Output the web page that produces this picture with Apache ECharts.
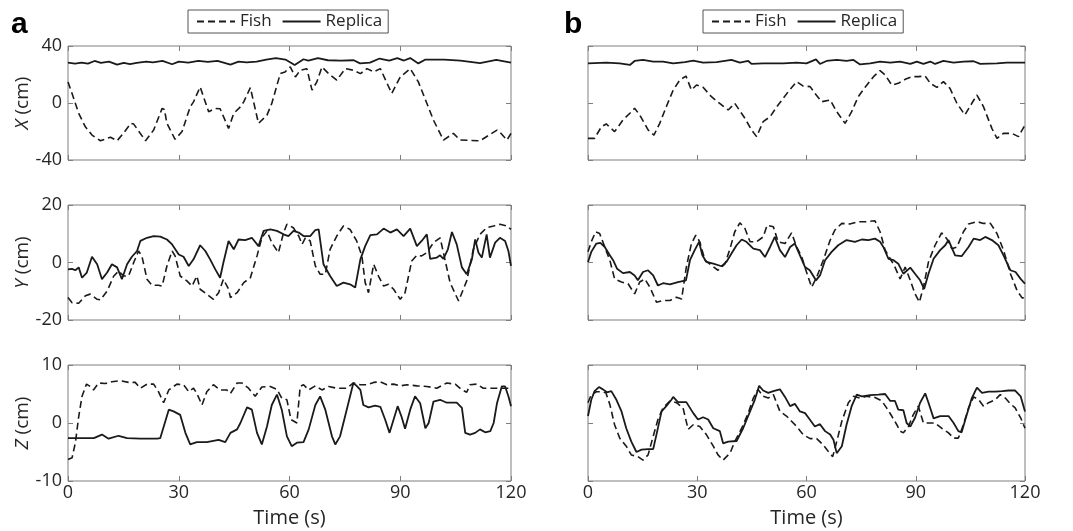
<!DOCTYPE html>
<html>
<head>
<meta charset="utf-8">
<title>Fish vs Replica</title>
<script src="https://cdn.jsdelivr.net/npm/echarts@6/dist/echarts.min.js"></script>
<style>
html, body { margin: 0; padding: 0; background: #fff; }
#main { width: 1073px; height: 531px; }
</style>
</head>
<body>
<div id="main"></div>
<script>
// axis settings
var timeTicks = [0, 30, 60, 90, 120];
var xRange = [-40, 40];
var yRange = [-20, 20];
var zRange = [-10, 10];
var seriesNames = ['Fish', 'Replica'];
var axisNames = ['X', 'Y', 'Z'];

// panel a, [time (s), position (cm)]
var aXFish = [[0,14.8],[1.1,6.7],[2.9,-7.3],[4.7,-16.7],[6.5,-22.5],[8.8,-26.5],[11.5,-24],[13.3,-26.5],[15,-21.3],[17,-14.3],[17.8,-14.8],[21,-26.5],[23.2,-19],[25.5,-3.8],[26.1,-4.5],[26.8,-14.3],[29,-25.5],[30.9,-20],[33.1,-2.7],[34,0.8],[35.8,11.3],[38.1,-6.2],[39.9,-3.8],[41.2,-4],[43.5,-17.8],[44.9,-7.3],[46.7,-2.7],[47.6,0.8],[49.4,10.8],[51.6,-14.3],[53.9,-8.5],[55.2,-0.3],[57.5,20.6],[58.8,21.8],[60.2,25.3],[61.6,18.3],[62.9,23],[64.7,24.1],[66.1,9],[67.4,14.8],[68.8,25.3],[70.6,20.6],[72.8,16],[75.1,24.1],[77.3,23],[79.2,20.6],[81,24.1],[82.8,21.8],[84.6,24.1],[87.7,6.7],[90,18.3],[92.7,24.1],[94.9,14.8],[99,-12],[101.7,-26],[104.4,-21.3],[106.2,-26],[111.6,-26.5],[116.2,-19],[117,-20.5],[118.9,-26],[120,-21.3]];
var aXReplica = [[0,28.3],[1.9,27.6],[3.7,28.3],[5.4,27.6],[7.2,29.5],[8.9,28.1],[11.1,29],[13.3,26.9],[15.1,28.1],[16.8,27.3],[18.6,28.1],[21.2,29],[23,28.5],[25.6,29.5],[28.2,27.2],[30,29],[32.6,28.3],[35.3,29.5],[37.9,28.8],[40.5,29.5],[44,26.9],[46.2,29],[48.4,28.5],[51.1,29],[53.7,30.5],[56.3,31.5],[58.9,30.5],[61.4,26.7],[63.8,30.7],[65.1,29.8],[67.7,31.5],[70.4,30],[73.9,29.8],[77.4,30],[79.1,27.8],[81.8,28.3],[84.4,31.2],[87,29.8],[89.2,31.5],[91,29.8],[92.7,31.5],[94.9,27.8],[96.7,30.4],[101.9,30.4],[106.3,29.8],[111.6,28],[116,30.2],[120,28.3]];
var aYFish = [[0,-12.2],[1.1,-14],[2.9,-14.2],[4.7,-11.6],[6,-11],[7.9,-12.8],[8.8,-13],[10.6,-9.9],[12.4,-4.7],[13.7,-3],[15.1,-4.7],[16.4,-4.7],[17.8,0],[19.1,4],[20,2.3],[21.4,-5.8],[22.7,-7.9],[24.5,-7.9],[25.5,-8.2],[26.8,-1.2],[28.2,4],[29,2.3],[30.4,-4.7],[32.2,-6.4],[33.6,-8.2],[34.9,-4.7],[35.8,-9.3],[37.6,-11],[39.4,-12.8],[40.8,-10.5],[42.1,-5.8],[43.5,-9.3],[44,-12.2],[45.8,-10.5],[47.6,-7],[49.4,-5.3],[51.2,2.3],[52.5,8.6],[53.9,11],[55.2,6.9],[57,3.4],[58.4,10.4],[59.3,13.3],[60.2,12.7],[61.1,12],[62.5,9.2],[63.4,6.3],[64.3,8.6],[65.6,7.5],[67,-1.2],[68.3,-4.1],[69.7,-4.1],[71,4.6],[72.8,9.2],[74.6,12.7],[76.4,11.5],[78.2,7.5],[79.6,2.3],[80.5,-7],[81.4,-10.5],[82.8,-0.6],[84.1,-4.7],[85.5,-8.2],[86.8,-7.6],[88.2,-9.3],[90,-12.8],[91.3,-10.5],[93.1,0.5],[94.5,2.5],[95.8,2.3],[97.2,3.4],[99,6.9],[100.8,8.6],[102.2,0.5],[103.5,-7],[105.8,-13.4],[108,-6.4],[109.8,4.6],[111.6,9.8],[113.4,12.1],[115.3,12.7],[117,13.3],[118.9,12.7],[120,11.5]];
var aYReplica = [[0,-2.4],[1.1,-2.2],[2,-2.7],[2.9,-1.7],[3.8,-5.3],[5.1,-3.5],[6.5,2],[7.9,-0.6],[9.2,-5.8],[10.6,-3.5],[11.9,-0.6],[13.3,-1.7],[14.6,-5.8],[16,-0.6],[17.3,2],[18.7,4],[19.6,7.5],[21.4,8.6],[23.2,9.2],[25,9],[26.8,8],[28.2,6.3],[30,2.8],[31.3,2],[32.7,-1.2],[34,1.1],[35.8,6],[37.2,4],[38.5,1.1],[39.9,-2.4],[41.2,-5.3],[42.1,0],[43.5,7.5],[44.9,4.6],[46.2,8],[48,7.8],[49.8,8.6],[51.6,5.7],[53,11],[54.8,11.5],[56.6,11],[58.4,9.8],[59.7,9.2],[61.1,11],[62.5,10.4],[63.8,9.2],[65.6,9.2],[67,11.3],[67.9,11.5],[69.2,-0.6],[71,-4.7],[72.8,-8.2],[74.6,-7],[76.4,-7.6],[77.8,-8.7],[79.2,1.1],[80.5,5.7],[81.9,9.5],[83.7,9.8],[85.5,11.8],[87.3,10.4],[89.1,11.5],[90.9,9.2],[92.7,11.8],[94.5,5.7],[95.8,7.5],[97.2,9.8],[98.1,1.3],[99.9,1.7],[100.8,2.5],[101.7,1.3],[102.9,4.6],[104,10.6],[105.3,6.3],[106.7,-1.7],[108,-4.1],[109.4,1.1],[110.3,8],[111.2,3.4],[112.1,1.7],[113.4,9.8],[114.3,1.7],[115.7,6.9],[117,8.6],[118.4,7.5],[119.3,4],[120,-1.2]];
var aZFish = [[0,-6.3],[1.1,-6],[2,-3.4],[2.9,1.1],[3.8,4.6],[5,6.7],[6,6.3],[6.9,5.7],[8.3,6.9],[10.1,6.8],[11.9,7.1],[14.2,7.3],[16.4,7],[18.2,7],[19.6,6],[21.4,6.7],[23.2,6.7],[24.5,5.4],[25.9,3.5],[27.3,5.7],[29.5,6.7],[31.3,6.6],[32.7,5.4],[34,6],[34.9,5.1],[36.3,3.1],[37.6,5.4],[39.4,6.6],[41.2,5.7],[43,5.7],[44,5.1],[45.8,6.9],[47.1,6.9],[48.9,6],[50.7,4.6],[52.5,6.2],[54.8,6.3],[56.6,5.8],[57.9,4.3],[59.3,4],[60.4,0.6],[62,0],[62.9,6.3],[63.8,6.6],[65.2,5.7],[67,6.4],[68.8,5.7],[70.6,6.3],[72.8,6],[75.5,6],[77.3,6.9],[79.2,6.6],[81,6.6],[82.8,7],[84.6,7.1],[86.4,6.6],[88.2,6.7],[90,6.4],[91.8,6.6],[94.5,6.4],[97.2,6.3],[99.9,6],[102.6,6.9],[104.9,6.7],[106.7,5.7],[108,5.3],[108.9,6.6],[110.7,6.7],[112.5,6],[115.3,6],[118,6],[120,6]];
var aZReplica = [[0,-2.6],[3.3,-2.6],[7,-2.6],[9.2,-2],[11,-2.7],[13.7,-2.2],[16,-2.6],[19.6,-2.7],[24.1,-2.7],[25,-2.6],[27.3,2.3],[28.6,2],[30.4,1.4],[31.8,-1.7],[33.1,-3.7],[34.9,-3.3],[37.6,-3.3],[40.8,-2.9],[42.6,-3.3],[44,-1.7],[45.8,-1.1],[46.7,0],[48.5,2.7],[49.8,2.3],[51.2,-1.7],[52.5,-3.7],[53.9,-0.6],[55.2,3.1],[56.6,4.9],[57.9,2.3],[59.3,-2.3],[60.6,-4],[62,-3.4],[63.8,-3.3],[65.2,-1.1],[67,3.1],[68.3,4.6],[69.7,2.3],[71.5,-2.3],[72.4,-3.7],[73.7,-2.3],[75.5,2.3],[77.3,6.9],[78.2,6.4],[79.2,5.7],[80,3.1],[81.4,2.7],[83.2,3],[84.6,2.8],[85.9,0.6],[87.1,-1.7],[88.2,0.6],[89.3,2.9],[90.4,1],[91.3,-1],[92.7,2.3],[94,4.6],[95.4,3.4],[96.8,-0.9],[97.7,0],[99,3.7],[100.8,4],[102.6,3.5],[105.3,3.5],[106.7,2.6],[107.6,-1.7],[108.9,-2],[110.3,-1.7],[111.6,-1.1],[113,-1.6],[114.4,-1.4],[115.3,0],[116.2,3.4],[117.5,6.3],[118.4,6.3],[119.3,4.6],[120,2.9]];

// panel b
var bXFish = [[0,-24.8],[1.8,-24.8],[3.7,-16.6],[5,-14.7],[7.3,-20.1],[9.6,-11.9],[11.5,-7.2],[12.8,-3.7],[14.2,-8.4],[16.5,-18.9],[18.1,-22.5],[19.7,-14.3],[21.5,-2.6],[23.4,9.1],[25.2,16.1],[26.9,18.9],[28.4,9.1],[29.8,12.6],[31.6,11],[33.9,4.4],[36.7,-1.4],[38.5,-4.9],[40.3,-0.2],[43.1,-10.8],[44.9,-18.9],[46.3,-23.6],[48.1,-13.1],[50,-9.6],[52.2,-1.4],[55,8],[57.3,15],[59.1,11.9],[61,11.5],[62.3,6.8],[64.2,0.9],[66.5,2.1],[68.3,-6.1],[70.6,-14.3],[72.4,-6.1],[74.2,4.4],[76.1,11],[78.4,18.5],[80.2,22.7],[81.6,19.6],[83.4,12.6],[85.2,13.8],[87.1,16.6],[88.9,18.5],[90.7,18.5],[92.6,18.9],[94,13.8],[95.8,11],[97.6,15],[99.4,10.3],[101.3,-0.2],[103.5,-8.4],[105.4,-0.2],[106.8,5.6],[108.6,-2.6],[110.9,-17.8],[112.3,-24.8],[114.1,-21.3],[116.4,-21.3],[118.2,-23.6],[120,-15.4]];
var bXReplica = [[0,27.8],[5,28.3],[8.7,27.8],[11.5,26.7],[12.8,29.5],[15.1,30.2],[17.9,29.1],[20.6,29.1],[23.4,27.8],[26.6,28.7],[28.9,29.7],[31.6,28.3],[35.3,28.7],[39.4,30.2],[41.7,28.3],[44,29.5],[44.9,27.4],[48.1,27.8],[53.6,27.8],[57.3,28.3],[60,27.8],[62.6,30.6],[63.7,27.4],[65.5,29.5],[68.3,30.2],[71,29.5],[72.9,30.2],[74.7,27.1],[77.5,27.8],[80.2,29.1],[83,28.3],[85.7,29.1],[88.5,27.4],[90.3,29.1],[92.1,27.4],[94,29.1],[95.3,27.4],[97.6,29.5],[100.4,28.3],[103.1,29.1],[105.9,29.3],[107.7,27.4],[112.3,27.8],[115,28.3],[120,28.3]];
var bYFish = [[0,3.7],[0.9,7.2],[2.1,10.7],[3.2,10.1],[4.6,5.4],[6,0.8],[7.3,-5.7],[9.2,-6.8],[11,-7.4],[12.8,-10.9],[14.2,-6.8],[15.6,-5.7],[17,-8.6],[18.8,-13.8],[20.6,-13.2],[22.5,-13.2],[24.3,-12.1],[25.7,-12.7],[27,-1.6],[28.4,6.6],[29.6,9.5],[30.7,7.2],[32.1,0.8],[33.9,-1],[35.7,-2.7],[37.6,-0.5],[39,4.8],[40.3,10.7],[41.7,13.8],[43.1,11.8],[44.5,7.2],[46.3,7.2],[48.1,8.9],[49.2,13],[50.9,12.4],[52.2,7.2],[54.1,6.6],[55.9,10.3],[57.3,5.4],[58.7,1.9],[60,-3.3],[61.4,-8.6],[62.8,-5.1],[64.6,0.8],[66.5,7.8],[67.8,11.3],[69.7,13.6],[71.9,13.4],[74.2,14.2],[76.5,14.2],[78.8,14.5],[80.2,10.7],[81.6,4.3],[83,1.3],[84.3,-1.6],[85.7,-5.7],[87.1,-1.6],[88.5,-6.2],[89.8,-10.9],[91,-13.8],[92.1,-8.6],[93.5,0.2],[95.3,6],[97.1,10.3],[98.5,8.3],[99.9,4.8],[101.3,5.4],[103.1,10.7],[104.5,13.4],[106.8,14.2],[108.6,13.6],[110.5,13.6],[112.3,10.1],[114.1,4.3],[116,-3.9],[117.8,-9.7],[119.2,-12.3],[120,-12.3]];
var bYReplica = [[0,0.2],[0.9,3.7],[2.3,6.6],[3.4,6.8],[4.6,5.4],[6,2.5],[6.9,0.8],[8,-2.2],[9.6,-3.7],[11.5,-3.3],[12.8,-4.5],[13.7,-6.2],[15.1,-3.3],[16.5,-2.7],[17.9,-4.5],[19.2,-8],[20.6,-7.2],[22.5,-7.6],[24.7,-6.8],[26.9,-6.2],[28,0.8],[29.3,4.3],[30.5,7.2],[31.4,2.5],[32.5,0.2],[34.4,-0.4],[36.7,-1.3],[38,0.2],[39.4,3.1],[40.8,6],[42.2,8],[43.5,7.2],[45.4,4.8],[47.2,4.3],[48.6,1.9],[50,5.4],[51.3,8.9],[52.7,4.3],[54.1,1.9],[55.5,5.4],[56.8,6.6],[58.2,2.5],[59.6,-1.6],[60.9,-2.7],[62.6,-6.2],[63.7,-4.5],[65.1,0.8],[66.9,3.7],[68.7,6],[71,7.8],[73.3,7.2],[75.2,8],[77,7.8],[78.8,8.3],[80.2,7.2],[81.1,5.4],[82.5,1.3],[83.9,0.8],[85.2,-0.4],[86.6,-3.9],[88.5,-1.8],[89.8,-3.9],[91.2,-6.2],[92.3,-9.2],[93.5,-3.9],[94.9,1.3],[96.7,4.3],[98.1,6],[99,7.8],[100.8,2.5],[102.6,2.2],[104.5,5.4],[105.9,8.3],[107.7,7.8],[109.1,8.9],[110.9,7.8],[112.7,6],[114.1,2.5],[116,-2.7],[117.4,-3.3],[118.8,-5.7],[120,-7.4]];
var bZFish = [[0,3.5],[0.9,4.9],[2.3,5.4],[3.7,5.4],[4.9,5.2],[6,3.2],[7.3,-0.3],[8.7,-2.6],[10.5,-4],[11.9,-5.5],[13.7,-5.8],[15.1,-6.4],[16.5,-5.5],[17.9,-2.3],[19.2,0.6],[20.6,2.6],[22.5,3.8],[24.3,3.5],[26.1,2.6],[27.5,-1.1],[28.9,-0.3],[30.7,-0.6],[32.5,-2],[34.4,-4],[35.7,-5.5],[37.1,-6.4],[39,-5.2],[40.3,-3.2],[42.2,-0.9],[44,1.7],[45.4,4.3],[46.7,5.8],[48.1,4.6],[49.5,4.3],[50.9,4.9],[52.7,2],[54.5,1.2],[55.9,0.3],[57.3,-0.6],[59.1,-2],[61,-2.7],[62.8,-2.7],[64.6,-3.8],[66,-4.9],[67.2,-5.8],[68.3,-3.2],[69.7,0.3],[71.5,3.5],[72.9,4.6],[74.7,4.3],[76.5,4.6],[78.8,4.4],[80.7,3.8],[82,2.6],[83.4,1.2],[84.8,-0.3],[85.7,-1.4],[86.6,-1.7],[88,-0.6],[89.3,1.4],[90.7,2.9],[92.1,0],[94,0],[95.3,0],[97.1,-0.9],[99,-1.7],[100.4,-2.6],[101.7,-2.6],[103.1,-0.3],[104.5,2.6],[105.9,4.5],[107.3,4],[108.6,2.9],[110,3.5],[111.8,4],[113.2,4.9],[114.6,4.3],[116,3.3],[117.3,2.6],[118.8,0.9],[120,-0.9]];
var bZReplica = [[0,1.2],[0.9,4],[1.8,5.5],[3,6.2],[4.1,5.8],[5.2,5.3],[6.4,5.5],[7.8,4],[9.2,2],[10.5,-0.9],[11.9,-3.2],[13.3,-5],[14.7,-4.6],[16.5,-4.5],[17.9,-4.5],[18.8,-2],[20.2,2],[21.5,2.9],[22.9,4],[23.4,4.5],[24.7,3.6],[27,3.6],[28.9,1.7],[30.2,0.6],[31.6,1],[33,0.6],[34.4,-0.9],[36.2,-1.4],[37.1,-3.5],[38.5,-3.2],[40.8,-3.1],[42.6,-0.9],[44.5,2],[45.8,4],[47,6.4],[48.1,5.6],[49.5,5.2],[50.9,5.5],[52.7,5.8],[54.1,4.5],[55.5,2.9],[56.8,3.3],[58.2,2],[59.6,1.7],[60.9,0.6],[62.3,-0.6],[63.7,-0.2],[65.1,-1.4],[66.5,-2],[67.4,-2.9],[68.3,-5.2],[69.7,-4],[71,-0.3],[72.4,2.9],[73.8,4.9],[75.2,4.6],[77.5,4.8],[79.7,4.9],[81.6,5],[83,3.8],[84.3,3.8],[85.2,2.3],[86.6,2.2],[87.5,0],[88.5,-0.6],[89.8,0.9],[91.2,3.5],[92.6,5.1],[93.5,3.5],[94.9,0.8],[96.7,1.2],[99,1.2],[100.4,0],[101.7,-1.4],[102.6,-1.6],[103.9,1.2],[105.4,4.3],[106.8,6.1],[108.2,5.2],[110,5.4],[111.8,5.4],[113.7,5.5],[115.5,5.6],[117.3,5.6],[118.8,4.6],[120,2]];

var chart = echarts.init(document.getElementById('main'));
var font = 'Open Sans';
var tickColor = '#7f7f7f';
var textColor = '#262626';
var lineColor = '#1a1a1a';

var panels = [
    {col: 0, row: 0, fish: aXFish, rep: aXReplica, range: xRange},
    {col: 0, row: 1, fish: aYFish, rep: aYReplica, range: yRange},
    {col: 0, row: 2, fish: aZFish, rep: aZReplica, range: zRange},
    {col: 1, row: 0, fish: bXFish, rep: bXReplica, range: xRange},
    {col: 1, row: 1, fish: bYFish, rep: bYReplica, range: yRange},
    {col: 1, row: 2, fish: bZFish, rep: bZReplica, range: zRange}
];
var colLeft = [68, 588];
var colWidth = [443, 437];
var rowTop = [46, 205, 365];
var rowHeight = [114, 115, 116];

var grids = [], xAxes = [], yAxes = [], series = [];
var tick = {inside: true, length: 5, lineStyle: {color: tickColor}};

panels.forEach(function (p, i) {
    grids.push({
        left: colLeft[p.col], top: rowTop[p.row],
        width: colWidth[p.col], height: rowHeight[p.row],
        show: true, borderColor: tickColor, borderWidth: 1
    });
    var bottomRow = p.row === 2;
    var leftCol = p.col === 0;
    ['bottom', 'top'].forEach(function (pos) {
        xAxes.push({
            gridIndex: i, type: 'value', position: pos,
            min: timeTicks[0], max: timeTicks[timeTicks.length - 1],
            interval: timeTicks[1] - timeTicks[0],
            axisLine: {show: false, onZero: false}, axisTick: tick, splitLine: {show: false},
            axisLabel: {show: bottomRow && pos === 'bottom', fontSize: 18, fontFamily: font, color: textColor, margin: 3},
            name: bottomRow && pos === 'bottom' ? 'Time (s)' : '',
            nameLocation: 'middle', nameGap: 27,
            nameTextStyle: {fontSize: 20, fontFamily: font, color: textColor}
        });
    });
    ['left', 'right'].forEach(function (pos) {
        yAxes.push({
            gridIndex: i, type: 'value', position: pos,
            min: p.range[0], max: p.range[1], interval: p.range[1],
            axisLine: {show: false, onZero: false}, axisTick: tick, splitLine: {show: false},
            axisLabel: {show: leftCol && pos === 'left', fontSize: 18, fontFamily: font, color: textColor, margin: 6},
            name: leftCol && pos === 'left' ? '{it|' + axisNames[p.row] + '} (cm)' : '',
            nameLocation: 'middle', nameGap: 36,
            nameTextStyle: {
                fontSize: 19, fontFamily: font, color: textColor,
                rich: {it: {fontSize: 19, fontFamily: font, color: textColor, fontStyle: 'italic'}}
            }
        });
    });
    series.push({
        name: seriesNames[0], type: 'line', xAxisIndex: 2 * i, yAxisIndex: 2 * i,
        data: p.fish, symbol: 'none', animation: false,
        itemStyle: {color: lineColor},
        lineStyle: {color: lineColor, width: 1.6, type: [7, 4]}
    });
    series.push({
        name: seriesNames[1], type: 'line', xAxisIndex: 2 * i, yAxisIndex: 2 * i,
        data: p.rep, symbol: 'none', animation: false,
        itemStyle: {color: lineColor},
        lineStyle: {color: lineColor, width: 1.8, type: 'solid'}
    });
});

function legendAt(left) {
    return {
        left: left, top: 10, data: seriesNames, selectedMode: false,
        itemWidth: 38, itemHeight: 12, itemGap: 10,
        itemStyle: {opacity: 0},
        borderColor: '#555', borderWidth: 1, padding: [3, 6, 3, 8],
        textStyle: {fontSize: 17, fontFamily: font, color: textColor}
    };
}

option = {
    backgroundColor: '#fff',
    animation: false,
    grid: grids,
    xAxis: xAxes,
    yAxis: yAxes,
    legend: [legendAt(188), legendAt(703)],
    graphic: [
        {type: 'text', left: 11, top: 10, style: {text: 'a', font: 'bold 30px "Liberation Sans"', fill: '#000'}},
        {type: 'text', left: 564, top: 10, style: {text: 'b', font: 'bold 30px "Liberation Sans"', fill: '#000'}}
    ],
    series: series
};
chart.setOption(option);
</script>
</body>
</html>
